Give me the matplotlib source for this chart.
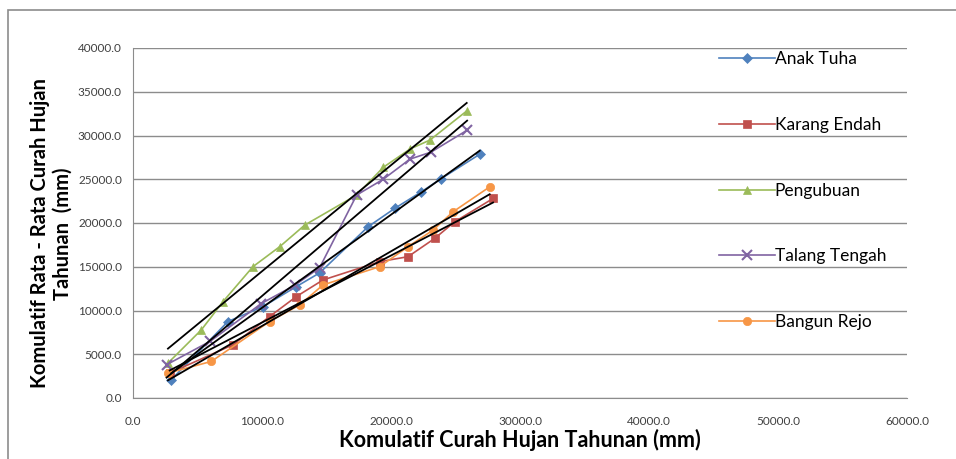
import matplotlib.pyplot as plt
import matplotlib.patches as patches
import numpy as np

# data
names = ["Anak Tuha", "Karang Endah", "Pengubuan", "Talang Tengah", "Bangun Rejo"]

x_anak = [2970, 7360, 10080, 12660, 14470, 18220, 20280, 22350, 23900, 26870]
y_anak = [2090, 8740, 10450, 12730, 14300, 19570, 21660, 23560, 25080, 27850]

x_karang = [2840, 7750, 10590, 12660, 14730, 19120, 21320, 23390, 24940, 27910]
y_karang = [2850, 6080, 9310, 11590, 13490, 15580, 16150, 18240, 20140, 22800]

x_pengubuan = [2710, 5300, 6980, 9300, 11370, 13310, 17340, 19400, 21470, 23020, 25870]
y_pengubuan = [3990, 7790, 11020, 15010, 17290, 19760, 23200, 26360, 28450, 29480, 32800]

x_talang = [2600, 6000, 9950, 12560, 14470, 17340, 19400, 21470, 23100, 25900]
y_talang = [3800, 6500, 10800, 12900, 14900, 23200, 25000, 27300, 28100, 30600]

x_bangun = [2710, 6070, 10590, 12920, 14730, 19120, 21320, 23260, 24810, 27650]
y_bangun = [2850, 4180, 8740, 10640, 12920, 15010, 17290, 19190, 21280, 24130]

xs = [x_anak, x_karang, x_pengubuan, x_talang, x_bangun]
ys = [y_anak, y_karang, y_pengubuan, y_talang, y_bangun]
colors = ["#4F81BD", "#C0504D", "#9BBB59", "#8064A2", "#F79646"]
markers = ["D", "s", "^", "x", "o"]
msizes = [5, 6, 6, 7, 6]

plt.rcParams['font.family'] = ['Lato', 'DejaVu Sans']

fig = plt.figure(figsize=(9.56, 4.59), dpi=100)
ax = fig.add_axes([133/956, 1-398/459, (907-133)/956, (398-48)/459])

# outer chart border (only top and left edges fall inside the picture)
fig.patches.append(patches.Rectangle((8/956, -0.05), 1.0, 1.05-10/459,
                                     transform=fig.transFigure, fill=False,
                                     edgecolor="#8c8c8c", linewidth=1.2))

for j in range(len(names)):
    ax.plot(xs[j], ys[j], color=colors[j], marker=markers[j], markersize=msizes[j],
            markeredgewidth=1.5 if markers[j] == "x" else 0.5, linewidth=1.2, label=names[j])

# linear trend lines
for j in range(len(names)):
    x = np.array(xs[j])
    k, b = np.polyfit(x, ys[j], 1)
    ax.plot([x.min(), x.max()], [k*x.min()+b, k*x.max()+b], color="black", linewidth=1.3)

ax.set_xlim(0, 60000)
ax.set_ylim(0, 40000)
ax.set_xticks(np.arange(0, 60001, 10000))
ax.set_yticks(np.arange(0, 40001, 5000))
ax.xaxis.set_major_formatter(plt.FormatStrFormatter('%.1f'))
ax.yaxis.set_major_formatter(plt.FormatStrFormatter('%.1f'))
ax.tick_params(length=0, labelsize=8.5, colors="#404040")
ax.tick_params(axis="x", pad=13)
ax.tick_params(axis="y", pad=8)
ax.grid(axis="y", color="#8c8c8c", linewidth=1)
ax.set_axisbelow(True)
for s in ["top", "right"]:
    ax.spines[s].set_visible(False)
for s in ["left", "bottom"]:
    ax.spines[s].set_color("#8c8c8c")

ax.set_xlabel("Komulatif Curah Hujan Tahunan (mm)", fontsize=15.5, fontweight="bold", labelpad=1)
ax.set_ylabel("Komulatif Rata - Rata Curah Hujan\nTahunan  (mm)", fontsize=14.5, fontweight="bold",
              linespacing=1.15)
ax.yaxis.set_label_coords(-0.078, 0.47)

ax.legend(loc="upper left", bbox_to_anchor=(0.737, 1.035), frameon=False, fontsize=12.5,
          handlelength=3.2, labelspacing=2.86, handletextpad=0.0)

fig.savefig("out.png", dpi=100)
